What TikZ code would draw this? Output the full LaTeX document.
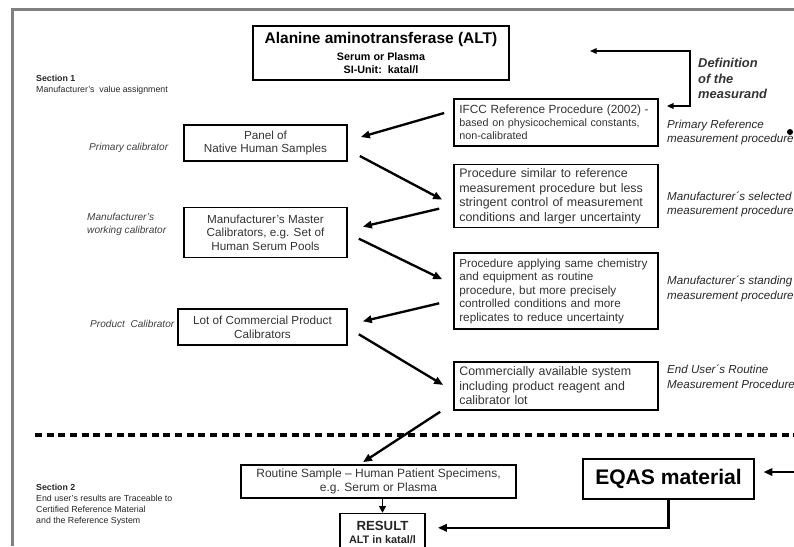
\documentclass[tikz,border=0pt]{standalone}
\usepackage{fontspec}
\setmainfont{Liberation Sans}
\usetikzlibrary{arrows.meta, positioning, calc}

\begin{document}
\begin{tikzpicture}[
	x=0.03cm, y=-0.03cm,
	box/.style={rectangle, draw=black, line width=1.4pt, text=black!80, align=center, inner sep=0pt},
	procbox/.style={box, text width=5.8cm, inner xsep=0.16cm, align=left, font=\fontsize{10.6}{12.4}\selectfont},
	calbox/.style={box, minimum width=4.89cm, font=\fontsize{10}{11.8}\selectfont},
	lbl/.style={anchor=west, align=left, inner sep=0pt, text=black!75, font=\fontsize{8.6}{10.6}\selectfont\itshape},
	rlbl/.style={anchor=west, align=left, inner sep=0pt, text=black!85, font=\fontsize{9.9}{12.6}\selectfont\itshape},
	sect/.style={anchor=north west, align=left, inner sep=0pt, text=black!85, font=\fontsize{7.5}{9.5}\selectfont},
	arrow/.style={-{Triangle[length=0.27cm, width=0.22cm]}, line width=2pt},
	thinarrow/.style={{Triangle[length=0.2cm, width=0.17cm]}-{Triangle[length=0.2cm, width=0.17cm]}, line width=1.1pt}
]
\useasboundingbox (0,0) rectangle (794,546);

% Frame and section border
\draw[gray, line width=2.4pt] (12.5,546) -- (12.5,9.5) -- (794,9.5);
\draw[line width=2.6pt, dash pattern=on 0.21cm off 0.14cm] (35,435) -- (794,435);

% Measurand
\node[box, minimum width=7.68cm, minimum height=1.62cm, text=black, font=\fontsize{9.2}{11.5}\selectfont\bfseries] (alt) at (381,53)
	{{\fontsize{13.2}{15}\selectfont Alanine aminotransferase (ALT)}\\[3pt] Serum or Plasma\\ SI-Unit:~~katal/l};

% Measurement procedures
\node[procbox, minimum height=1.41cm, font=\fontsize{9.2}{11.2}\selectfont] (ifcc) at (556,122.5)
	{{\fontsize{10.1}{12}\selectfont IFCC Reference Procedure (2002) -}\\ based on physicochemical constants,\\ non-calibrated};
\node[procbox, minimum height=1.89cm, below=0.51cm of ifcc] (sim)
	{Procedure similar to reference\\ measurement procedure but less\\ stringent control of measurement\\ conditions and larger uncertainty};
\node[procbox, minimum height=2.28cm, below=0.72cm of sim, font=\fontsize{10}{11.5}\selectfont] (stand)
	{Procedure applying same chemistry\\ and equipment as routine\\ procedure, but more precisely\\ controlled conditions and more\\ replicates to reduce uncertainty};
\node[procbox, minimum height=1.44cm, below=0.93cm of stand] (comm)
	{Commercially available system\\ including product reagent and\\ calibrator lot};

% Calibrators
\node[calbox, minimum height=1.08cm] (panel) at (265.5,143) {Panel of\\ Native Human Samples};
\node[calbox, minimum height=1.5cm, below=1.35cm of panel] (master) {Manufacturer's Master\\ Calibrators, e.g. Set of\\ Human Serum Pools};
\node[calbox, minimum width=5.07cm, minimum height=1.08cm, below=1.5cm of master.south east, anchor=north east] (lot) {Lot of Commercial Product\\ Calibrators};

% Labels
\node[sect] (sec1) at (36,74.5) {\textbf{Section 1}\\ Manufacturer's~~value assignment};
\node[lbl] (lprim) at (89,148) {Primary calibrator};
\node[lbl] (lwork) at (87,224.5) {Manufacturer's\\ working calibrator};
\node[lbl] (lprod) at (90,324) {Product~~Calibrator};
\node[rlbl, text=black!80, font=\fontsize{11}{13.2}\selectfont\bfseries\itshape] (ldef) at (698,78.5) {Definition\\ of the\\ measurand};
\node[rlbl] (lref) at (667,132.5) {Primary Reference\\ measurement procedure};
\node[rlbl] (lsel) at (667,204.5) {Manufacturer´s selected\\ measurement procedure};
\node[rlbl] (lstd) at (667,289) {Manufacturer´s standing\\ measurement procedure};
\node[rlbl] (lend) at (667,376.5) {End User´s Routine\\ Measurement Procedure};
\fill (790,132) circle (0.09cm);

% Section 2
\node[sect] (sec2) at (36,483.5) {\textbf{Section 2}\\ End user's results are Traceable to\\ Certified Reference Material\\ and the Reference System};
\node[box, minimum width=8.25cm, minimum height=0.99cm, font=\fontsize{10.25}{12}\selectfont] (routine) at (378.5,481.5)
	{Routine Sample – Human Patient Specimens,\\ e.g. Serum or Plasma};
\node[box, minimum width=2.55cm, minimum height=1.12cm, below=0.42cm of routine, xshift=0.12cm, text=black!85, font=\fontsize{9.3}{11}\selectfont\bfseries] (result)
	{{\fontsize{11.3}{13}\selectfont RESULT}\\ ALT in katal/l};
\node[box, line width=2.4pt, minimum width=5.13cm, minimum height=1.2cm, text=black, font=\fontsize{18}{21}\selectfont\bfseries] (eqas) at (668.5,479) {EQAS material};

% Arrows
\coordinate (defend) at (590,51);
\coordinate (defcorner) at (690,106);
\draw[thinarrow] (defend) -| (defcorner) -- ($(ifcc.east)+(8,-16.5)$);
\draw[arrow] ($(ifcc.west)+(-9,-9.5)$) -- ($(panel.east)+(13,-6)$);
\draw[arrow] ($(panel.east)+(12,13)$) -- ($(sim.west)+(-11,3.5)$);
\draw[arrow] ($(sim.west)+(-14,12.5)$) -- ($(master.east)+(15,-6)$);
\draw[arrow] ($(master.east)+(11,6)$) -- ($(stand.west)+(-11,-12)$);
\draw[arrow] ($(stand.west)+(-14,12)$) -- ($(lot.east)+(15,-6)$);
\draw[arrow] ($(lot.east)+(11,7)$) -- ($(comm.west)+(-10,-1)$);
\draw[arrow] ($(comm.south west)+(-13,1)$) -- ($(routine.north)+(-15.5,-2)$);
\draw[arrow, -{Triangle[length=0.2cm, width=0.2cm]}, line width=1.6pt] (routine.south -| result.north) -- (result.north);
\draw[arrow] (eqas.south) |- ($(result.east)+(12,-4.5)$);
\coordinate (eqin) at (800,472);
\draw[arrow] (eqin) -- ($(eqas.east)+(8,-7)$);

\end{tikzpicture}
\end{document}
